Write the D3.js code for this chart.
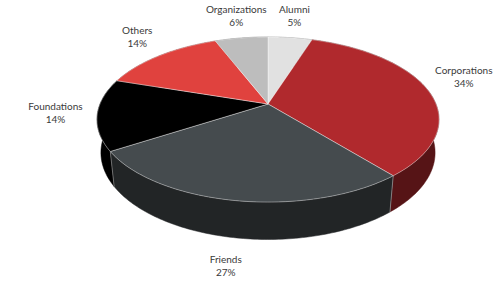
<!DOCTYPE html>
<html lang="en">
    <head>
        <meta charset="utf-8">
        <title>Donor sources</title>
        <style>
            body{ margin:0; background:#fff; }
            svg{ display:block; }
            .label{ font-family: Lato, "Open Sans", sans-serif; font-size:10px; fill:#3a3a3a; }
        </style>
    </head>
    <body>
        <svg id="chart" width="500" height="281"></svg>
        <script src="https://d3js.org/d3.v7.min.js"></script>
        <script>
            // slices, clockwise from 12 o'clock
            const categories = ["Alumni","Corporations","Friends","Foundations","Others","Organizations"]
            const shares = [5,34,27,14,14,6]
            const sliceColors = ["#e1e1e1","#b0292d","#454b4e","#000000","#e0423e","#bdbdbd"]

            const width = 500, height = 281
            const cx = 268, cy = 104          // where the slices meet
            const R = 168                     // disk radius
            const tilt = 28.3 * Math.PI/180   // view angle above the disk
            const camDist = 787               // perspective distance
            const depth = 38                  // thickness of the pie

            // perspective projection of a point on the disk (z = distance below top face)
            function project(angle, r, z){
                const u = r*Math.sin(angle), v = -r*Math.cos(angle)
                const Y = v*Math.sin(tilt) + z*Math.cos(tilt)
                const Z = v*Math.cos(tilt) - z*Math.sin(tilt)
                const s = camDist/(camDist - Z)
                return [cx + u*s, cy + Y*s]
            }

            function arcPoints(a0, a1, r, z){
                const n = Math.max(2, Math.ceil((a1-a0)/(Math.PI/180)))
                return d3.range(n+1).map(i => project(a0 + (a1-a0)*i/n, r, z))
            }

            const pie = d3.pie().sort(null).value(d=>d)
            const arcs = pie(shares).map((a,i)=>({...a, name:categories[i], color:sliceColors[i]}))

            const line = d3.line()
            const svg = d3.select("#chart")

            //side walls first
            svg.append("g").selectAll("path")
                .data(arcs)
                .enter()
                .append("path")
                .attr("d", d=>{
                    const top = arcPoints(d.startAngle, d.endAngle, R, 0)
                    const bottom = arcPoints(d.startAngle, d.endAngle, R, depth).reverse()
                    return line(top.concat(bottom)) + "Z"
                })
                .attr("fill", d=>{
                    const c = d3.color(d.color)
                    return d.color === "#000000" ? "#000" : c.darker(2).formatHex()
                })
                .attr("stroke", d=> d3.color(d.color).darker(2).formatHex())
                .attr("stroke-width",0.5)

            // light seams between the walls on the visible front
            svg.append("g").selectAll("line")
                .data(arcs.filter(d=>Math.cos(d.startAngle) < 0))
                .enter()
                .append("line")
                .attr("x1", d=>project(d.startAngle,R,0)[0])
                .attr("y1", d=>project(d.startAngle,R,0)[1])
                .attr("x2", d=>project(d.startAngle,R,depth)[0])
                .attr("y2", d=>project(d.startAngle,R,depth)[1])
                .attr("stroke","rgba(255,255,255,0.55)")
                .attr("stroke-width",0.7)

            //top faces
            svg.append("g").selectAll("path")
                .data(arcs)
                .enter()
                .append("path")
                .attr("d", d=>{
                    const pts = [[cx,cy]].concat(arcPoints(d.startAngle, d.endAngle, R, 0))
                    return line(pts) + "Z"
                })
                .attr("fill", d=>d.color)
                .attr("stroke","rgba(255,255,255,0.55)")
                .attr("stroke-width",0.7)
                .attr("stroke-linejoin","round")

            //labels
            const labelR = 208
            const labels = svg.append("g").selectAll("text")
                .data(arcs)
                .enter()
                .append("text")
                .attr("class","label")
                .attr("text-anchor","middle")
                .attr("transform", d=>{
                    const mid = (d.startAngle + d.endAngle)/2
                    const p = project(mid, labelR, 0)
                    const front = Math.max(0, -Math.cos(mid))
                    return `translate(${p[0]},${p[1] - 9 + 45*front})`
                })
            labels.append("tspan").attr("x",0).attr("y",-3).text(d=>d.name)
            labels.append("tspan").attr("x",0).attr("y",10).text(d=>d.data + "%")
        </script>
    </body>
</html>
